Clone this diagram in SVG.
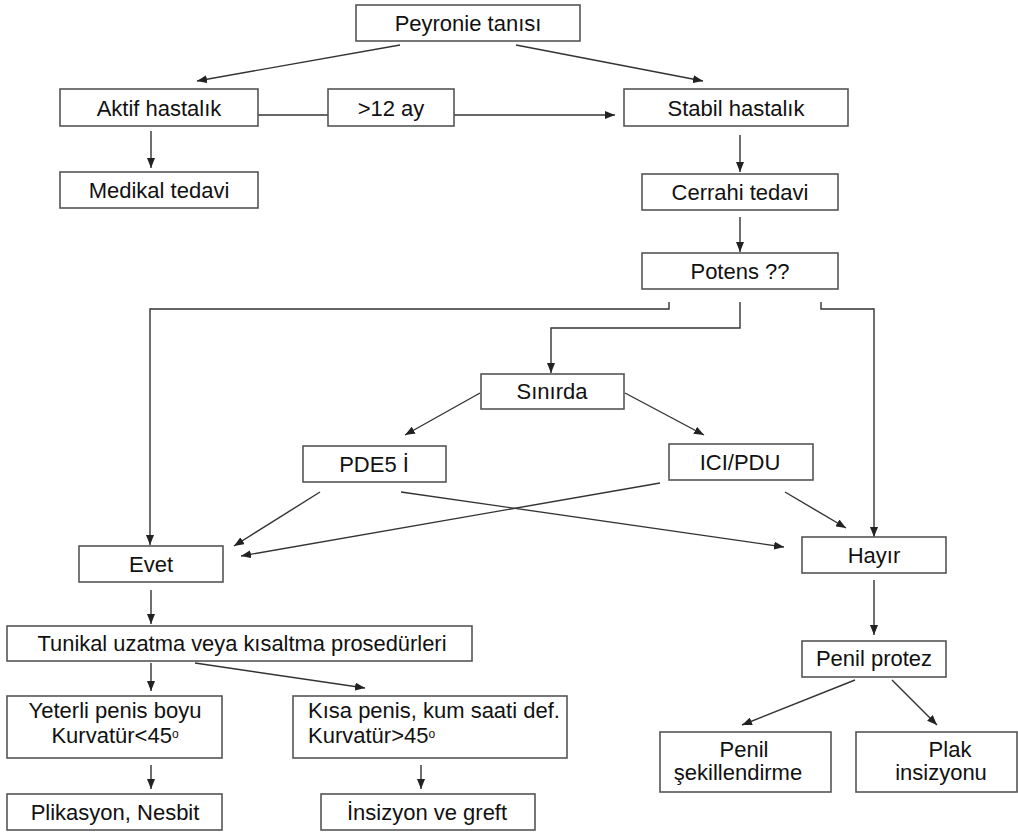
<svg xmlns="http://www.w3.org/2000/svg" width="1018" height="835" viewBox="0 0 1018 835">
<style>
.box{fill:#fff;stroke:#555;stroke-width:1.6}
.t{font-family:"Liberation Sans",Arial,sans-serif;font-size:22px;fill:#111;text-anchor:middle}
.l{text-anchor:start}
.c{fill:none;stroke:#333;stroke-width:1.4}
.a{marker-end:url(#ah)}
.sup{font-size:12px}
</style>
<defs>
<marker id="ah" markerUnits="userSpaceOnUse" markerWidth="10" markerHeight="8" viewBox="0 0 10 8" refX="10" refY="4" orient="auto">
<path d="M0,0 L10,4 L0,8 z" fill="#222"/>
</marker>
</defs>
<rect width="1018" height="835" fill="#fff"/>
<g id="connectors">
<line class="c a" x1="400" y1="45" x2="197" y2="81"/>
<line class="c a" x1="516" y1="45" x2="703" y2="81"/>
<line class="c" x1="258" y1="115" x2="328" y2="115"/>
<line class="c a" x1="454" y1="115" x2="615" y2="115"/>
<line class="c a" x1="151" y1="131" x2="151" y2="168"/>
<line class="c a" x1="740" y1="135" x2="740" y2="172"/>
<line class="c a" x1="740" y1="217" x2="740" y2="252"/>
<polyline class="c a" points="669,302 669,309 150,309 150,545"/>
<polyline class="c a" points="740,302 740,328 551,328 551,373"/>
<polyline class="c a" points="821,302 821,309 874,309 874,537"/>
<line class="c a" x1="480" y1="393" x2="405" y2="435"/>
<line class="c a" x1="625" y1="393" x2="704" y2="435"/>
<line class="c a" x1="320" y1="492" x2="234" y2="546"/>
<line class="c a" x1="401" y1="492" x2="784" y2="547"/>
<line class="c a" x1="660" y1="483" x2="241" y2="556"/>
<line class="c a" x1="785" y1="492" x2="846" y2="528"/>
<line class="c a" x1="151" y1="590" x2="151" y2="624"/>
<line class="c a" x1="874" y1="580" x2="874" y2="635"/>
<line class="c a" x1="151" y1="663" x2="151" y2="691"/>
<line class="c a" x1="195" y1="663" x2="365" y2="688"/>
<line class="c a" x1="151" y1="765" x2="151" y2="789"/>
<line class="c a" x1="421" y1="765" x2="421" y2="789"/>
<line class="c a" x1="855" y1="680" x2="742" y2="725"/>
<line class="c a" x1="892" y1="680" x2="937" y2="725"/>
</g>
<g id="peyronie"><rect class="box" x="356" y="5" width="224" height="36"/><text class="t" x="468" y="31">Peyronie tanısı</text></g>
<g id="aktif"><rect class="box" x="60" y="89" width="198" height="37"/><text class="t" x="159" y="116">Aktif hastalık</text></g>
<g id="ay12"><rect class="box" x="328" y="89" width="126" height="37"/><text class="t" x="391" y="116">&gt;12 ay</text></g>
<g id="stabil"><rect class="box" x="624" y="89" width="224" height="37"/><text class="t" x="736" y="116">Stabil hastalık</text></g>
<g id="medikal"><rect class="box" x="60" y="172" width="198" height="36"/><text class="t" x="159" y="198">Medikal tedavi</text></g>
<g id="cerrahi"><rect class="box" x="642" y="174" width="196" height="36"/><text class="t" x="740" y="200">Cerrahi tedavi</text></g>
<g id="potens"><rect class="box" x="642" y="253" width="196" height="36"/><text class="t" x="740" y="279">Potens ??</text></g>
<g id="sinirda"><rect class="box" x="481" y="374" width="143" height="35"/><text class="t" x="552" y="399">Sınırda</text></g>
<g id="pde5"><rect class="box" x="303" y="446" width="143" height="36"/><text class="t" x="374" y="472">PDE5 İ</text></g>
<g id="ici"><rect class="box" x="669" y="444" width="144" height="36"/><text class="t" x="740" y="470">ICI/PDU</text></g>
<g id="evet"><rect class="box" x="79" y="546" width="144" height="36"/><text class="t" x="151" y="572">Evet</text></g>
<g id="hayir"><rect class="box" x="802" y="537" width="144" height="36"/><text class="t" x="874" y="563">Hayır</text></g>
<g id="tunikal"><rect class="box" x="7" y="626" width="465" height="35"/><text class="t" x="242" y="651" textLength="409" lengthAdjust="spacingAndGlyphs">Tunikal uzatma veya kısaltma prosedürleri</text></g>
<g id="yeterli"><rect class="box" x="7" y="696" width="215" height="62"/><text class="t" x="115" y="718">Yeterli penis boyu</text><text class="t" x="115" y="743">Kurvatür&lt;45<tspan class="sup" dy="-5">o</tspan></text></g>
<g id="kisa"><rect class="box" x="293" y="696" width="274" height="62"/><text class="t l" x="308" y="718">Kısa penis, kum saati def.</text><text class="t l" x="308" y="743">Kurvatür&gt;45<tspan class="sup" dy="-5">o</tspan></text></g>
<g id="plikasyon"><rect class="box" x="7" y="794" width="215" height="36"/><text class="t" x="115" y="820">Plikasyon, Nesbit</text></g>
<g id="insizyon"><rect class="box" x="321" y="794" width="214" height="36"/><text class="t" x="427" y="820">İnsizyon ve greft</text></g>
<g id="penilprotez"><rect class="box" x="802" y="641" width="144" height="36"/><text class="t" x="874" y="666">Penil protez</text></g>
<g id="penilsekil"><rect class="box" x="660" y="732" width="171" height="60"/><text class="t" x="744" y="757">Penil</text><text class="t" x="738" y="780">şekillendirme</text></g>
<g id="plak"><rect class="box" x="856" y="732" width="161" height="60"/><text class="t" x="950" y="757">Plak</text><text class="t" x="941" y="780">insizyonu</text></g>
</svg>
